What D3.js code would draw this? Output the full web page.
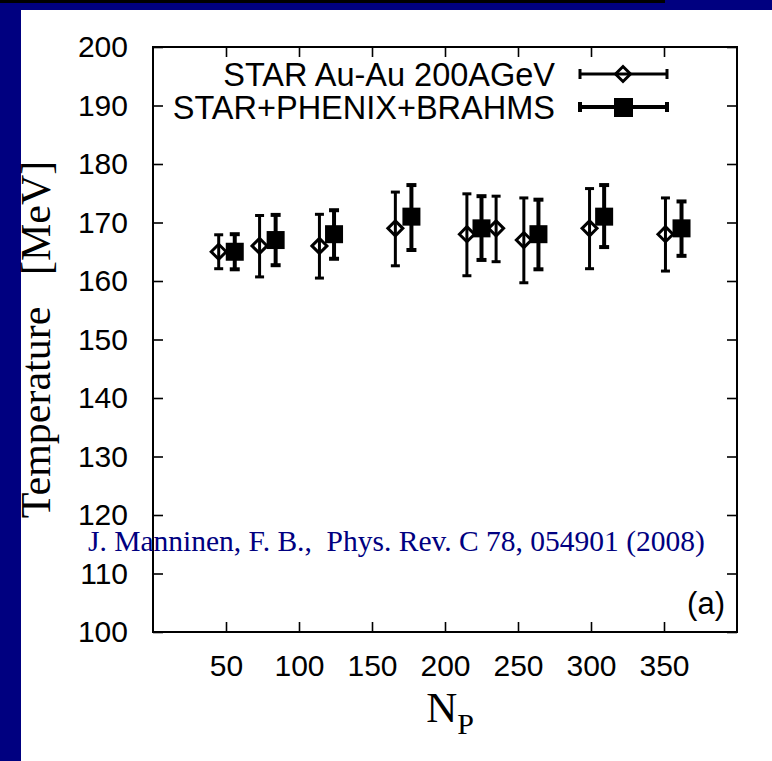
<!DOCTYPE html>
<html>
<head>
<meta charset="utf-8">
<script src="https://cdn.jsdelivr.net/npm/d3@7"></script>
<style>
  html, body { margin: 0; padding: 0; background: #000080; }
  svg { display: block; }
</style>
</head>
<body>
<svg id="chart" width="772" height="761"></svg>
<script>
// ---- data ----
const xTicks = [50, 100, 150, 200, 250, 300, 350];
const yTicks = [100, 110, 120, 130, 140, 150, 160, 170, 180, 190, 200];

const starLabel = "STAR Au-Au 200AGeV";
const starNp   = [45, 73, 114, 166, 215, 235, 254, 299, 351];
const starT    = [165, 166, 166, 169, 168, 169, 167, 169, 168];
const starLow  = [162.1, 160.7, 160.5, 162.6, 160.9, 163.3, 159.7, 162.1, 161.7];
const starHigh = [167.9, 171.2, 171.4, 175.2, 174.9, 174.5, 174.2, 175.8, 174.2];

const combLabel = "STAR+PHENIX+BRAHMS";
const combNp   = [56, 84, 124, 177, 225, 264, 309, 362];
const combT    = [165, 167, 168, 171, 169, 168, 171, 169];
const combLow  = [162.0, 162.7, 163.8, 165.3, 163.6, 162.0, 165.8, 164.3];
const combHigh = [168.0, 171.3, 172.1, 176.4, 174.5, 173.9, 176.4, 173.6];

// ---- layout ----
const svg = d3.select("#chart");
const L = 153, R = 737, T = 47, B = 632;
const x = d3.scaleLinear().domain([0, 400]).range([L, R]);
const y = d3.scaleLinear().domain([100, 200]).range([B, T]);
const sans = "'Liberation Sans', Arial, Helvetica, sans-serif";
const serif = "'Liberation Serif', 'Times New Roman', Times, serif";

// background
svg.append("rect").attr("x", 0).attr("y", 0).attr("width", 772).attr("height", 761).attr("fill", "#000080");
svg.append("rect").attr("x", 0).attr("y", 0).attr("width", 665).attr("height", 3).attr("fill", "#000000");
svg.append("rect").attr("x", 21).attr("y", 10).attr("width", 751).attr("height", 751).attr("fill", "#ffffff");

// axes
function styleAxis(g) {
  g.select(".domain").remove();
  g.selectAll(".tick line").attr("stroke", "#000").attr("stroke-width", 1.6);
  g.selectAll(".tick text").attr("fill", "#000").style("font-family", sans).style("font-size", "30px");
}
svg.append("g").attr("transform", `translate(0,${B})`)
  .call(d3.axisBottom(x).tickValues(xTicks).tickSizeInner(-10).tickSizeOuter(0).tickPadding(23))
  .call(styleAxis);
svg.append("g").attr("transform", `translate(0,${T})`)
  .call(d3.axisTop(x).tickValues(xTicks).tickSizeInner(-10).tickSizeOuter(0).tickFormat(""))
  .call(styleAxis);
svg.append("g").attr("transform", `translate(${L},0)`)
  .call(d3.axisLeft(y).tickValues(yTicks).tickSizeInner(-10).tickSizeOuter(0).tickPadding(25))
  .call(styleAxis);
svg.append("g").attr("transform", `translate(${R},0)`)
  .call(d3.axisRight(y).tickValues(yTicks).tickSizeInner(-10).tickSizeOuter(0).tickFormat(""))
  .call(styleAxis);

// frame
svg.append("rect").attr("x", L).attr("y", T).attr("width", R - L).attr("height", B - T)
  .attr("fill", "none").attr("stroke", "#000").attr("stroke-width", 2);

// error bars + points
function drawSeries(xs, ys, lo, hi, lw, capW, kind) {
  const g = svg.append("g");
  const data = xs.map((v, i) => ({ x: v, y: ys[i], lo: lo[i], hi: hi[i] }));
  g.selectAll("line.v").data(data).join("line")
    .attr("x1", d => x(d.x)).attr("x2", d => x(d.x))
    .attr("y1", d => y(d.lo)).attr("y2", d => y(d.hi))
    .attr("stroke", "#000").attr("stroke-width", lw);
  g.selectAll("line.lo").data(data).join("line")
    .attr("x1", d => x(d.x) - capW / 2).attr("x2", d => x(d.x) + capW / 2)
    .attr("y1", d => y(d.lo)).attr("y2", d => y(d.lo))
    .attr("stroke", "#000").attr("stroke-width", lw);
  g.selectAll("line.hi").data(data).join("line")
    .attr("x1", d => x(d.x) - capW / 2).attr("x2", d => x(d.x) + capW / 2)
    .attr("y1", d => y(d.hi)).attr("y2", d => y(d.hi))
    .attr("stroke", "#000").attr("stroke-width", lw);
  if (kind === "diamond") {
    g.selectAll("path.pt").data(data).join("path")
      .attr("d", d => { const cx = x(d.x), cy = y(d.y), r = 7.5;
        return `M${cx - r},${cy}L${cx},${cy - r}L${cx + r},${cy}L${cx},${cy + r}Z`; })
      .attr("fill", "none").attr("stroke", "#000").attr("stroke-width", 3);
  } else {
    g.selectAll("rect.pt").data(data).join("rect")
      .attr("x", d => x(d.x) - 9).attr("y", d => y(d.y) - 9)
      .attr("width", 18).attr("height", 18).attr("fill", "#000");
  }
}
drawSeries(starNp, starT, starLow, starHigh, 3, 9, "diamond");
drawSeries(combNp, combT, combLow, combHigh, 4, 10, "square");

// legend
const legend = [
  { label: starLabel, y: 74, lw: 3, kind: "diamond" },
  { label: combLabel, y: 107, lw: 4, kind: "square" }
];
legend.forEach(d => {
  const g = svg.append("g");
  g.append("text").attr("x", 555).attr("y", d.y + 12).attr("text-anchor", "end")
    .style("font-family", sans).style("font-size", "32.5px").attr("fill", "#000").text(d.label);
  g.append("line").attr("x1", 580).attr("x2", 667).attr("y1", d.y).attr("y2", d.y)
    .attr("stroke", "#000").attr("stroke-width", d.lw);
  [580, 667].forEach(px => g.append("line").attr("x1", px).attr("x2", px)
    .attr("y1", d.y - 5).attr("y2", d.y + 5).attr("stroke", "#000").attr("stroke-width", d.lw));
  if (d.kind === "diamond") {
    const cx = 623, cy = d.y, r = 7.5;
    g.append("path").attr("d", `M${cx - r},${cy}L${cx},${cy - r}L${cx + r},${cy}L${cx},${cy + r}Z`)
      .attr("fill", "none").attr("stroke", "#000").attr("stroke-width", 3);
  } else {
    g.append("rect").attr("x", 614).attr("y", d.y - 9).attr("width", 19).attr("height", 19).attr("fill", "#000");
  }
});

// panel label
svg.append("text").attr("x", 725).attr("y", 614).attr("text-anchor", "end")
  .style("font-family", sans).style("font-size", "31px").attr("fill", "#000").text("(a)");

// axis titles
svg.append("text").attr("transform", `translate(50,${(T + B) / 2}) rotate(-90)`)
  .attr("text-anchor", "middle").style("font-family", serif).style("font-size", "42px")
  .style("white-space", "pre").attr("fill", "#000").text("Temperature   [MeV]");
const xt = svg.append("text").attr("x", 450).attr("y", 722).attr("text-anchor", "middle")
  .style("font-family", serif).style("font-size", "43px").attr("fill", "#000");
xt.append("tspan").text("N");
xt.append("tspan").attr("dy", 12).style("font-size", "30px").text("P");

// citation
svg.append("text").attr("x", 88).attr("y", 551)
  .style("font-family", serif).style("font-size", "29.5px").style("white-space", "pre")
  .attr("fill", "#000080").text("J. Manninen, F. B.,  Phys. Rev. C 78, 054901 (2008)");
</script>
</body>
</html>
